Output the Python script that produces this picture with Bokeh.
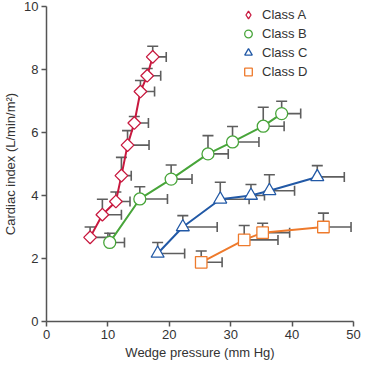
import math
from bokeh.plotting import figure
from bokeh.models import Whisker, TeeHead, ColumnDataSource, Legend, LegendItem, FixedTicker
from bokeh.embed import file_html
from bokeh.resources import INLINE

# ---- data ----
A_x = [7.1, 9.1, 11.3, 12.2, 13.2, 14.3, 15.3, 16.4, 17.3]
A_y = [2.67, 3.39, 3.81, 4.63, 5.6, 6.3, 7.3, 7.8, 8.4]
A_xerr = [2.9, 3.1, 2.3, 1.6, 3.5, 2.3, 2.3, 2.2, 2.2]
A_yerr = [0.33, 0.49, 0.30, 0.58, 0.46, 0.21, 0.35, 0.23, 0.34]

B_x = [10.3, 15.2, 20.3, 26.3, 30.3, 35.3, 38.3]
B_y = [2.51, 3.89, 4.52, 5.32, 5.7, 6.2, 6.6]
B_xerr = [2.4, 4.5, 3.4, 3.3, 4.3, 3.4, 3.1]
B_yerr = [0.29, 0.39, 0.45, 0.58, 0.49, 0.6, 0.39]

C_x = [18.1, 22.2, 28.3, 33.3, 36.3, 44.1]
C_y = [2.16, 3.0, 3.88, 4.0, 4.15, 4.59]
C_xerr = [4.4, 5.6, 4.7, 2.2, 4.1, 4.4]
C_yerr = [0.35, 0.36, 0.54, 0.35, 0.51, 0.36]

D_x = [25.2, 32.2, 35.2, 45.1]
D_y = [1.88, 2.59, 2.82, 3.0]
D_xerr = [3.4, 5.5, 4.4, 4.5]
D_yerr = [0.36, 0.46, 0.3, 0.44]

series_names = ["Class A", "Class B", "Class C", "Class D"]
x_ticks = [0, 10, 20, 30, 40, 50]
y_ticks = [0, 2, 4, 6, 8, 10]

FONT = "Liberation Sans"
ERR = "#5e5e5e"

p = figure(width=361, height=362, x_range=(0, 50), y_range=(0, 10),
           output_backend="svg", toolbar_location=None,
           min_border_left=0, min_border_right=8, min_border_top=6, min_border_bottom=0)
p.outline_line_color = None
p.grid.visible = False
p.background_fill_color = "white"

for ax in (p.xaxis[0], p.yaxis[0]):
    ax.axis_line_color = "#555555"
    ax.axis_line_width = 1.5
    ax.major_tick_line_color = "#555555"
    ax.major_tick_line_width = 1.5
    ax.major_tick_out = 5
    ax.major_tick_in = 0
    ax.minor_tick_line_color = None
    ax.major_label_text_font = FONT
    ax.major_label_text_font_size = "13px"
    ax.major_label_text_color = "#333333"
    ax.axis_label_text_font = FONT
    ax.axis_label_text_font_size = "13px"
    ax.axis_label_text_font_style = "normal"
    ax.axis_label_text_color = "#333333"
    ax.major_label_standoff = 3
    ax.axis_label_standoff = 3

p.xaxis[0].ticker = FixedTicker(ticks=x_ticks)
p.yaxis[0].ticker = FixedTicker(ticks=y_ticks)
p.xaxis[0].axis_label = "Wedge pressure (mm Hg)"
p.yaxis[0].axis_label = "Cardiac index (L/min/m²)"

series = [
    (A_x, A_y, A_xerr, A_yerr, "#c8193f", "square", 9, math.pi / 4, "diamond"),
    (B_x, B_y, B_xerr, B_yerr, "#48a53a", "circle", 12, 0, None),
    (C_x, C_y, C_xerr, C_yerr, "#2259a6", "triangle", 13, 0, None),
    (D_x, D_y, D_xerr, D_yerr, "#ee7a2c", "square", 11.5, 0, None),
]

items = []
for name, (xs, ys, xe, ye, col, mk, sz, ang, leg_mk) in zip(series_names, series):
    src = ColumnDataSource(dict(
        x=xs, y=ys,
        xhi=[a + b for a, b in zip(xs, xe)],
        yhi=[a + b for a, b in zip(ys, ye)],
    ))
    wh = Whisker(source=src, base="y", lower="x", upper="xhi", dimension="width",
                 line_color=ERR, line_width=1.6, lower_head=None,
                 upper_head=TeeHead(size=10, line_color=ERR, line_width=1.6),
                 level="underlay")
    wv = Whisker(source=src, base="x", lower="y", upper="yhi", dimension="height",
                 line_color=ERR, line_width=1.6, lower_head=None,
                 upper_head=TeeHead(size=11, line_color=ERR, line_width=1.6),
                 level="underlay")
    p.add_layout(wh)
    p.add_layout(wv)
    p.line("x", "y", source=src, line_color=col, line_width=2)
    r = p.scatter("x", "y", source=src, marker=mk, size=sz, angle=ang, fill_color="white",
                  line_color=col, line_width=1.3)
    if leg_mk is not None:
        # legend-only renderer (legend glyphs ignore marker rotation); NaN => nothing plotted
        r = p.scatter(x=[float("nan")], y=[float("nan")], marker=leg_mk, size=sz,
                      fill_color="white", line_color=col, line_width=1.3)
    items.append(LegendItem(label=name, renderers=[r]))

legend = Legend(items=items, location=(191, 240), background_fill_alpha=0,
                border_line_alpha=0, label_text_font=FONT, label_text_font_size="13px",
                label_text_color="#333333", glyph_width=22, glyph_height=19,
                label_height=19, spacing=0, padding=0, margin=0, label_standoff=3)
p.add_layout(legend, "center")

open("out.html", "w").write(file_html(p, INLINE))
